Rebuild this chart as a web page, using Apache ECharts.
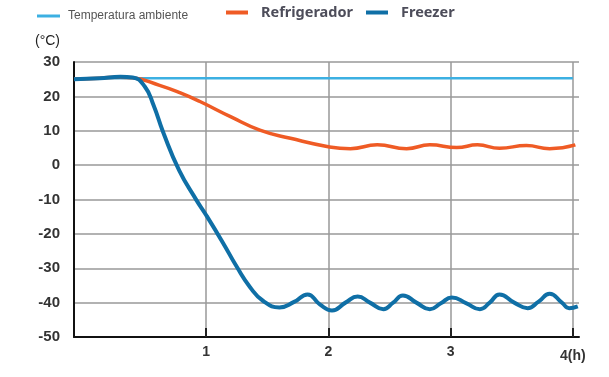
<!DOCTYPE html>
<html>
<head>
<meta charset="utf-8">
<title>Temperatura</title>
<script src="https://cdn.jsdelivr.net/npm/echarts@6/dist/echarts.min.js"></script>
<style>
  html, body { margin: 0; padding: 0; background: #fff; }
  #main { width: 609px; height: 377px; }
</style>
</head>
<body>
<div id="main"></div>
<script>
// hours on x, degrees C on y
var xTicks = [1, 2, 3, 4];
var yMin = -50, yMax = 30, yStep = 10;

var ambiente = [[-0.08, 25.3], [4.0, 25.3]];

var refrigerador = [
    [-0.08, 25.0], [0.13, 25.3], [0.30, 25.6], [0.40, 25.4],
    [0.62, 23.2], [0.79, 21.0], [0.95, 18.5], [1.2, 14.1],
    [1.44, 10.2], [1.69, 7.8], [2.01, 5.3], [2.18, 4.8],
    [2.40, 5.9], [2.64, 4.8], [2.83, 5.9], [3.05, 5.1], [3.22, 5.9],
    [3.40, 4.9], [3.62, 5.7], [3.81, 4.8], [4.02, 5.9]
];

var freezer = [
    [-0.08, 25.0], [0.13, 25.3], [0.30, 25.7], [0.40, 25.5],
    [0.50, 22.8], [0.57, 17.5], [0.65, 9.5], [0.78, -1.5], [0.92, -10.1],
    [1.0, -14.5], [1.14, -22.7], [1.25, -29.5], [1.36, -35.5], [1.47, -39.6],
    [1.60, -41.4], [1.72, -39.8],
    [1.83, -37.6], [1.93, -40.5], [2.03, -42.3], [2.14, -40.0], [2.24, -38.2],
    [2.34, -40.0], [2.45, -41.9], [2.53, -40.0], [2.61, -37.9], [2.72, -40.0],
    [2.83, -41.9], [2.92, -40.2], [3.01, -38.5], [3.13, -40.2], [3.24, -41.9],
    [3.32, -40.0], [3.40, -37.6], [3.52, -40.0], [3.63, -41.6], [3.72, -39.7],
    [3.81, -37.4], [3.91, -40.0], [3.97, -41.6], [4.04, -41.1]
];

var chart = echarts.init(document.getElementById('main'));

var option = {
    animation: false,
    backgroundColor: '#fff',
    textStyle: { fontFamily: 'Liberation Sans' },
    legend: [
        {
            data: ['Temperatura ambiente'],
            left: 37,
            top: 10,
            padding: 0,
            icon: 'rect',
            itemWidth: 23,
            itemHeight: 3,
            textStyle: { fontSize: 12, color: '#555', padding: [0, 0, 0, 3] }
        },
        {
            data: ['Refrigerador', 'Freezer'],
            left: 226,
            top: 5,
            padding: 0,
            itemGap: 13,
            icon: 'rect',
            itemWidth: 22,
            itemHeight: 4,
            textStyle: {
                fontSize: 14.5, fontWeight: 'bold', color: '#4d4d5a',
                fontFamily: 'Noto Sans', padding: [0, 0, 0, 8]
            }
        }
    ],
    graphic: [{
        type: 'text',
        left: 35,
        top: 34,
        style: { text: '(°C)', fill: '#222', font: '14px Liberation Sans' }
    }],
    grid: { left: 74, right: 30, top: 62, bottom: 40, containLabel: false },
    xAxis: {
        type: 'value',
        min: -0.08,
        max: 4.05,
        axisLine: { show: true, onZero: false, lineStyle: { color: '#111', width: 2 } },
        axisTick: { show: true, inside: true, length: 9, customValues: xTicks, lineStyle: { color: '#222', width: 2 } },
        axisLabel: {
            customValues: xTicks,
            margin: 8,
            fontSize: 14,
            fontWeight: 'bold',
            color: '#333',
            formatter: function (v) { return v === 4 ? '{h|4(h)}' : String(v); },
            rich: { h: { fontSize: 14, fontWeight: 'bold', color: '#333', padding: [4, 0, 0, 0] } }
        },
        splitLine: { show: true, lineStyle: { color: '#999', width: 1.5 } }
    },
    yAxis: {
        type: 'value',
        min: yMin,
        max: yMax,
        interval: yStep,
        axisLine: { show: true, onZero: false, lineStyle: { color: '#111', width: 2 } },
        axisTick: { show: false },
        axisLabel: { margin: 14, fontSize: 15, fontWeight: 'bold', color: '#333' },
        splitLine: { show: true, lineStyle: { color: '#999', width: 1.5 } }
    },
    series: [
        {
            name: 'Temperatura ambiente',
            type: 'line',
            data: ambiente,
            showSymbol: false,
            color: '#3cb0e2',
            lineStyle: { width: 2.5, color: '#3cb0e2' }
        },
        {
            name: 'Refrigerador',
            type: 'line',
            data: refrigerador,
            smooth: 0.5,
            showSymbol: false,
            color: '#ef5b25',
            lineStyle: { width: 3.5, color: '#ef5b25' }
        },
        {
            name: 'Freezer',
            type: 'line',
            data: freezer,
            smooth: 0.5,
            showSymbol: false,
            color: '#0f6fa6',
            lineStyle: { width: 4, color: '#0f6fa6' }
        }
    ]
};

chart.setOption(option);
</script>
</body>
</html>
